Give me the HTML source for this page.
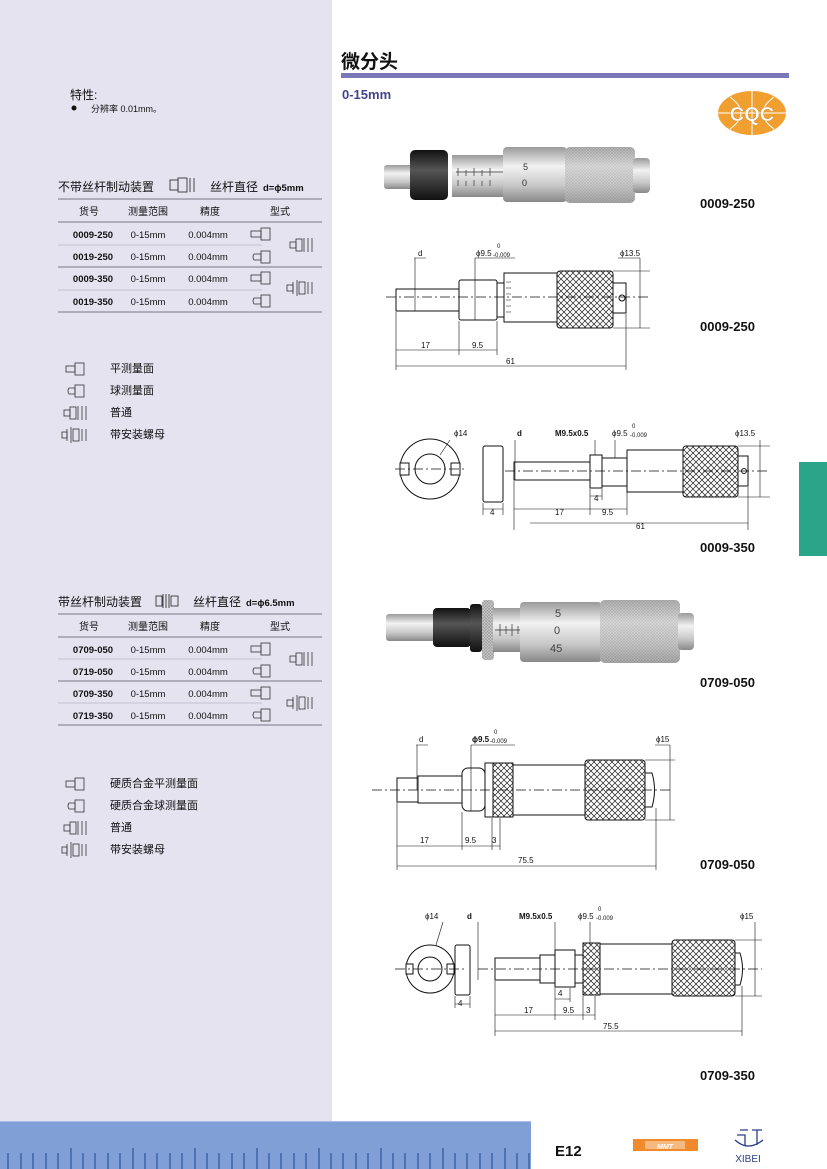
<!DOCTYPE html>
<html><head><meta charset="utf-8"><style>
html,body{margin:0;padding:0;background:#fff}
svg{display:block}
text{font-family:"Liberation Sans","Noto Sans CJK SC",sans-serif}
</style></head><body>
<svg width="827" height="1169" viewBox="0 0 827 1169" xmlns="http://www.w3.org/2000/svg">
<defs>
<pattern id="kn" width="6" height="6" patternUnits="userSpaceOnUse"><rect width="6" height="6" fill="#fff"/><path d="M0 0L6 6M6 0L0 6" stroke="#222" stroke-width="0.7"/></pattern>
<pattern id="pk" width="3" height="3" patternUnits="userSpaceOnUse"><rect width="3" height="3" fill="#c9c9c9"/><path d="M0 0L3 3M3 0L0 3" stroke="#9a9a9a" stroke-width="0.6"/></pattern>
<linearGradient id="mg" x1="0" y1="0" x2="0" y2="1"><stop offset="0" stop-color="#9a9a9a"/><stop offset="0.35" stop-color="#f2f2f2"/><stop offset="0.7" stop-color="#c8c8c8"/><stop offset="1" stop-color="#888"/></linearGradient>
<linearGradient id="bg" x1="0" y1="0" x2="0" y2="1"><stop offset="0" stop-color="#111"/><stop offset="0.4" stop-color="#555"/><stop offset="1" stop-color="#111"/></linearGradient>
</defs>
<rect x="0" y="0" width="332" height="1121" fill="#e5e3f0"/>
<text x="341" y="68" font-size="19" font-weight="bold" fill="#111">微分头</text>
<rect x="341" y="73" width="448" height="5" fill="#7b78b8"/>
<text x="342" y="99" font-size="13" font-weight="bold" fill="#44448c">0-15mm</text>
<ellipse cx="752" cy="113" rx="34" ry="22" fill="#f0a030"/>
<path d="M718 113H786M752 91V135M730 97Q752 113 730 129M774 97Q752 113 774 129" stroke="#fff" stroke-width="1" fill="none"/>
<text x="752" y="121" font-size="20" font-weight="bold" fill="#fff" text-anchor="middle" stroke="#c07020" stroke-width="0.3">CQC</text>
<text x="70" y="99" font-size="12" fill="#111">特性:</text>
<circle cx="74" cy="108" r="2.5" fill="#111"/>
<text x="91" y="112" font-size="9" fill="#111">分辨率 0.01mm。</text>
<g font-size="11" fill="#111">
<text x="58" y="191" font-size="12">不带丝杆制动装置</text>
<g stroke="#333" fill="none" stroke-width="0.9"><rect x="170" y="180" width="8" height="10"/><rect x="178" y="178" width="9" height="14"/><path d="M190 178V192M194 178V192"/></g>
<text x="210" y="191" font-size="12">丝杆直径</text>
<text x="263" y="191" font-size="9.5" font-weight="bold">d=ϕ5mm</text>
</g>
<g stroke="#8a8a9a" stroke-width="1.3"><path d="M58 199H322M58 222H322M58 267H322M58 312H322"/></g>
<g stroke="#b8b8c8" stroke-width="0.8"><path d="M58 245H262M58 290H262"/></g>
<g font-size="10" fill="#111" text-anchor="middle">
<text x="89" y="215">货号</text><text x="148" y="215">测量范围</text><text x="210" y="215">精度</text><text x="280" y="215">型式</text>
<g font-weight="bold" font-size="9.5"><text x="93" y="238">0009-250</text><text x="93" y="260">0019-250</text><text x="93" y="282">0009-350</text><text x="93" y="305">0019-350</text></g>
<g font-size="9.5"><text x="148" y="238">0-15mm</text><text x="148" y="260">0-15mm</text><text x="148" y="282">0-15mm</text><text x="148" y="305">0-15mm</text>
<text x="208" y="238">0.004mm</text><text x="208" y="260">0.004mm</text><text x="208" y="282">0.004mm</text><text x="208" y="305">0.004mm</text></g>
</g>
<g stroke="#333" fill="none" stroke-width="0.8">
<rect x="251" y="231" width="10" height="6"/><rect x="261" y="228" width="9" height="12"/>
<path d="M254 254h7v6h-7q-2-3 0-6z"/><rect x="261" y="251" width="9" height="12"/>
<rect x="251" y="275" width="10" height="6"/><rect x="261" y="272" width="9" height="12"/>
<path d="M254 298h7v6h-7q-2-3 0-6z"/><rect x="261" y="295" width="9" height="12"/>
<rect x="290" y="242" width="6" height="6"/><rect x="296" y="239" width="6" height="12"/><path d="M304 238V252M308 238V252M312 238V252"/>
<rect x="287" y="285" width="6" height="6"/><path d="M293 282V294M297 280V296"/><rect x="299" y="282" width="6" height="12"/><path d="M308 282V294M312 282V294"/>
</g>
<g font-size="11" fill="#111">
<text x="110" y="372">平测量面</text><text x="110" y="394">球测量面</text><text x="110" y="416">普通</text><text x="110" y="438">带安装螺母</text>
</g>
<g stroke="#333" fill="none" stroke-width="0.8">
<rect x="66" y="366" width="9" height="6"/><rect x="75" y="363" width="9" height="12"/>
<path d="M69 388h6v6h-6q-2-3 0-6z"/><rect x="75" y="385" width="9" height="12"/>
<rect x="64" y="410" width="6" height="6"/><rect x="70" y="407" width="6" height="12"/><path d="M78 406V420M82 406V420M86 406V420"/>
<rect x="62" y="432" width="5" height="6"/><path d="M67 429V441M71 427V443"/><rect x="73" y="429" width="6" height="12"/><path d="M82 429V441M86 429V441"/>
</g>
<g font-size="11" fill="#111">
<text x="58" y="606" font-size="12">带丝杆制动装置</text>
<g stroke="#333" fill="none" stroke-width="0.9"><rect x="156" y="596" width="6" height="10"/><path d="M163 594V608M166 594V608M169 594V608"/><rect x="171" y="596" width="7" height="10"/></g>
<text x="193" y="606" font-size="12">丝杆直径</text>
<text x="246" y="606" font-size="9.5" font-weight="bold">d=ϕ6.5mm</text>
</g>
<g stroke="#8a8a9a" stroke-width="1.3"><path d="M58 614H322M58 637H322M58 681H322M58 725H322"/></g>
<g stroke="#b8b8c8" stroke-width="0.8"><path d="M58 659H262M58 703H262"/></g>
<g font-size="10" fill="#111" text-anchor="middle">
<text x="89" y="630">货号</text><text x="148" y="630">测量范围</text><text x="210" y="630">精度</text><text x="280" y="630">型式</text>
<g font-weight="bold" font-size="9.5"><text x="93" y="653">0709-050</text><text x="93" y="675">0719-050</text><text x="93" y="697">0709-350</text><text x="93" y="719">0719-350</text></g>
<g font-size="9.5"><text x="148" y="653">0-15mm</text><text x="148" y="675">0-15mm</text><text x="148" y="697">0-15mm</text><text x="148" y="719">0-15mm</text>
<text x="208" y="653">0.004mm</text><text x="208" y="675">0.004mm</text><text x="208" y="697">0.004mm</text><text x="208" y="719">0.004mm</text></g>
</g>
<g stroke="#333" fill="none" stroke-width="0.8">
<rect x="251" y="646" width="10" height="6"/><rect x="261" y="643" width="9" height="12"/>
<path d="M254 668h7v6h-7q-2-3 0-6z"/><rect x="261" y="665" width="9" height="12"/>
<rect x="251" y="690" width="10" height="6"/><rect x="261" y="687" width="9" height="12"/>
<path d="M254 712h7v6h-7q-2-3 0-6z"/><rect x="261" y="709" width="9" height="12"/>
<rect x="290" y="656" width="6" height="6"/><rect x="296" y="653" width="6" height="12"/><path d="M304 652V666M308 652V666M312 652V666"/>
<rect x="287" y="700" width="6" height="6"/><path d="M293 697V709M297 695V711"/><rect x="299" y="697" width="6" height="12"/><path d="M308 697V709M312 697V709"/>
</g>
<g font-size="11" fill="#111">
<text x="110" y="787">硬质合金平测量面</text><text x="110" y="809">硬质合金球测量面</text><text x="110" y="831">普通</text><text x="110" y="853">带安装螺母</text>
</g>
<g stroke="#333" fill="none" stroke-width="0.8">
<rect x="66" y="781" width="9" height="6"/><rect x="75" y="778" width="9" height="12"/>
<path d="M69 803h6v6h-6q-2-3 0-6z"/><rect x="75" y="800" width="9" height="12"/>
<rect x="64" y="825" width="6" height="6"/><rect x="70" y="822" width="6" height="12"/><path d="M78 821V835M82 821V835M86 821V835"/>
<rect x="62" y="847" width="5" height="6"/><path d="M67 844V856M71 842V858"/><rect x="73" y="844" width="6" height="12"/><path d="M82 844V856M86 844V856"/>
</g>

<rect x="384" y="165" width="30" height="24" rx="3" fill="url(#mg)"/>
<rect x="410" y="150" width="38" height="50" rx="5" fill="url(#bg)"/>
<rect x="452" y="155" width="53" height="42" fill="url(#mg)"/>
<g stroke="#333" stroke-width="0.7"><path d="M456 172H505M458 176V168M466 176V170M474 176V168M482 176V170M490 176V168M458 186V180M466 186V181M474 186V180M482 186V181M490 186V180"/></g>
<rect x="503" y="147" width="64" height="55" rx="4" fill="url(#mg)"/>
<text x="523" y="170" font-size="9" fill="#333">5</text><text x="522" y="186" font-size="9" fill="#333">0</text>
<rect x="565" y="147" width="70" height="56" rx="5" fill="url(#pk)"/>
<rect x="565" y="147" width="70" height="56" rx="5" fill="url(#mg)" opacity="0.5"/>
<rect x="633" y="158" width="17" height="35" rx="4" fill="url(#mg)"/>
<text x="700" y="208" font-size="13" font-weight="bold" fill="#111">0009-250</text>

<g stroke="#111" stroke-width="1" fill="#fff">
<rect x="396" y="289" width="63" height="22"/>
<rect x="459" y="280" width="38" height="40" rx="2"/>
<rect x="497" y="283" width="7" height="34"/>
<path d="M504 273H557V322H504Z"/>
<rect x="557" y="271" width="56" height="57" rx="3" fill="url(#kn)"/>
<rect x="613" y="283" width="13" height="30"/>
</g>
<circle cx="622" cy="298" r="3" fill="#fff" stroke="#111"/>
<g stroke="#111" stroke-width="0.6"><path d="M506 282h5M506 288h5M506 294h5M506 300h5M506 306h5M506 312h5"/></g>
<path d="M386 297H650" stroke="#111" stroke-width="0.7" stroke-dasharray="10 3 2 3"/>
<g stroke="#111" stroke-width="0.6" fill="none">
<path d="M415 258V311M414 258H426M475 258V320M475 258H515M640 258V328M618 258H640M613 271H650M613 328H650"/>
<path d="M396 312V370M459 321V355M497 321V355M626 314V370M396 350H497M396 366H626"/>
</g>
<text x="418" y="256" font-size="8" fill="#111">d</text>
<text x="476" y="256" font-size="8" fill="#111">ϕ9.5</text><text x="493" y="257" font-size="6" fill="#111">-0.009</text><text x="497" y="248" font-size="6" fill="#111">0</text>
<text x="620" y="256" font-size="8" fill="#111">ϕ13.5</text>
<text x="421" y="348" font-size="8" fill="#111">17</text><text x="472" y="348" font-size="8" fill="#111">9.5</text><text x="506" y="364" font-size="8" fill="#111">61</text>
<text x="700" y="331" font-size="13" font-weight="bold" fill="#111">0009-250</text>

<g stroke="#111" stroke-width="1" fill="#fff">
<circle cx="430" cy="469" r="30"/><circle cx="430" cy="469" r="15"/>
<rect x="400" y="463" width="9" height="12"/><rect x="451" y="463" width="9" height="12"/>
<rect x="483" y="446" width="20" height="56" rx="2"/>
<rect x="514" y="462" width="76" height="18"/>
<rect x="590" y="455" width="12" height="33"/>
<rect x="602" y="458" width="25" height="28"/>
<rect x="627" y="450" width="56" height="42"/>
<rect x="683" y="446" width="55" height="51" rx="3" fill="url(#kn)"/>
<rect x="738" y="456" width="10" height="30"/>
</g>
<circle cx="744" cy="471" r="2.5" fill="#fff" stroke="#111"/>
<path d="M395 469H465M505 471H770" stroke="#111" stroke-width="0.7" stroke-dasharray="10 3 2 3"/>
<g stroke="#111" stroke-width="0.6" fill="none">
<path d="M450 440L440 455M515 440V480M595 440V455M615 440V458M760 440V497M738 446H770M738 497H770"/>
<path d="M483 503V515M503 503V515M483 509H503M514 481V530M590 489V515M602 489V500M627 487V515M748 487V530M514 509H627M590 496H602M530 523H748"/>
</g>
<text x="454" y="436" font-size="8" fill="#111">ϕ14</text><text x="517" y="436" font-size="8" font-weight="bold" fill="#111">d</text>
<text x="555" y="436" font-size="8" font-weight="bold" fill="#111">M9.5x0.5</text>
<text x="612" y="436" font-size="8" fill="#111">ϕ9.5</text><text x="630" y="437" font-size="6" fill="#111">-0.009</text><text x="632" y="428" font-size="6" fill="#111">0</text>
<text x="735" y="436" font-size="8" fill="#111">ϕ13.5</text>
<text x="490" y="515" font-size="8" fill="#111">4</text><text x="594" y="501" font-size="8" fill="#111">4</text>
<text x="555" y="515" font-size="8" fill="#111">17</text><text x="602" y="515" font-size="8" fill="#111">9.5</text><text x="636" y="529" font-size="8" fill="#111">61</text>
<text x="700" y="552" font-size="13" font-weight="bold" fill="#111">0009-350</text>

<rect x="799" y="462" width="28" height="94" fill="#2aa58a"/>

<rect x="386" y="614" width="50" height="27" rx="3" fill="url(#mg)"/>
<rect x="433" y="608" width="38" height="39" rx="4" fill="url(#bg)"/>
<rect x="470" y="604" width="12" height="48" rx="3" fill="url(#bg)"/>
<rect x="482" y="600" width="12" height="60" rx="3" fill="url(#pk)"/>
<rect x="493" y="608" width="30" height="44" fill="url(#mg)"/>
<g stroke="#333" stroke-width="0.7"><path d="M495 630H540M500 624V636M506 626V634M512 624V636M518 626V634"/></g>
<rect x="520" y="602" width="82" height="60" rx="4" fill="url(#mg)"/>
<text x="555" y="617" font-size="11" fill="#444">5</text><text x="554" y="634" font-size="11" fill="#444">0</text><text x="550" y="652" font-size="11" fill="#444">45</text>
<rect x="600" y="600" width="80" height="63" rx="5" fill="url(#pk)"/>
<rect x="600" y="600" width="80" height="63" rx="5" fill="url(#mg)" opacity="0.45"/>
<rect x="678" y="613" width="16" height="37" rx="4" fill="url(#mg)"/>
<text x="700" y="687" font-size="13" font-weight="bold" fill="#111">0709-050</text>

<g stroke="#111" stroke-width="1" fill="#fff">
<rect x="397" y="778" width="21" height="24"/>
<rect x="418" y="776" width="44" height="27"/>
<rect x="462" y="768" width="23" height="43" rx="6"/>
<rect x="485" y="763" width="8" height="54"/>
<rect x="493" y="763" width="20" height="54" fill="url(#kn)"/>
<rect x="513" y="765" width="72" height="50"/>
<rect x="585" y="760" width="60" height="60" rx="3" fill="url(#kn)"/>
<path d="M645 773H652Q657 790 652 807H645Z"/>
</g>
<path d="M372 790H670" stroke="#111" stroke-width="0.7" stroke-dasharray="10 3 2 3"/>
<g stroke="#111" stroke-width="0.6" fill="none">
<path d="M417 745V790M416 745H428M471 745V811M471 745H515M670 745V820M655 745H670M645 760H675M645 820H675"/>
<path d="M397 803V870M462 812V850M492 818V850M500 818V850M656 808V870M397 846H500M397 866H656"/>
</g>
<text x="419" y="742" font-size="8" fill="#111">d</text>
<text x="472" y="742" font-size="8" font-weight="bold" fill="#111">ϕ9.5</text><text x="490" y="743" font-size="6" fill="#111">-0.009</text><text x="494" y="734" font-size="6" fill="#111">0</text>
<text x="656" y="742" font-size="8" fill="#111">ϕ15</text>
<text x="420" y="843" font-size="8" fill="#111">17</text><text x="465" y="843" font-size="8" fill="#111">9.5</text><text x="492" y="843" font-size="8" fill="#111">3</text><text x="518" y="863" font-size="8" fill="#111">75.5</text>
<text x="700" y="869" font-size="13" font-weight="bold" fill="#111">0709-050</text>

<g stroke="#111" stroke-width="1" fill="#fff">
<circle cx="430" cy="969" r="24"/><circle cx="430" cy="969" r="12"/>
<rect x="406" y="964" width="7" height="10"/><rect x="447" y="964" width="7" height="10"/>
<rect x="455" y="945" width="15" height="50" rx="2"/>
<rect x="495" y="958" width="45" height="22"/>
<rect x="540" y="955" width="15" height="28"/>
<rect x="555" y="950" width="20" height="37"/>
<rect x="575" y="955" width="8" height="28"/>
<rect x="583" y="943" width="17" height="52" fill="url(#kn)"/>
<rect x="600" y="944" width="72" height="50"/>
<rect x="672" y="940" width="63" height="56" rx="3" fill="url(#kn)"/>
<path d="M735 953H740Q745 969 740 985H735Z"/>
</g>
<path d="M395 969H465M478 969H762" stroke="#111" stroke-width="0.7" stroke-dasharray="10 3 2 3"/>
<g stroke="#111" stroke-width="0.6" fill="none">
<path d="M443 922L436 945M478 922V980M555 922V950M590 922V945M755 922V996M735 940H762M735 996H762"/>
<path d="M455 996V1008M470 996V1008M455 1004H470M495 981V1036M555 988V1020M570 988V1002M583 996V1020M595 996V1020M742 986V1036M555 999H570M495 1015H595M495 1031H742"/>
</g>
<text x="425" y="919" font-size="8" fill="#111">ϕ14</text><text x="467" y="919" font-size="8" font-weight="bold" fill="#111">d</text>
<text x="519" y="919" font-size="8" font-weight="bold" fill="#111">M9.5x0.5</text>
<text x="578" y="919" font-size="8" fill="#111">ϕ9.5</text><text x="596" y="920" font-size="6" fill="#111">-0.009</text><text x="598" y="911" font-size="6" fill="#111">0</text>
<text x="740" y="919" font-size="8" fill="#111">ϕ15</text>
<text x="458" y="1006" font-size="8" fill="#111">4</text><text x="558" y="996" font-size="8" fill="#111">4</text>
<text x="524" y="1013" font-size="8" fill="#111">17</text><text x="563" y="1013" font-size="8" fill="#111">9.5</text><text x="586" y="1013" font-size="8" fill="#111">3</text><text x="603" y="1029" font-size="8" fill="#111">75.5</text>
<text x="700" y="1080" font-size="13" font-weight="bold" fill="#111">0709-350</text>

<rect x="0" y="1121" width="531" height="48" fill="#7f9fd6"/>
<rect x="0" y="1121" width="531" height="1" fill="#a8bde6"/>
<g stroke="#2f5599" stroke-width="1.2">
<path d="M8 1169V1153M21 1169V1153M33 1169V1153M46 1169V1153M58 1169V1153M71 1169V1148M83 1169V1153M95 1169V1153M108 1169V1153M120 1169V1153M133 1169V1148M145 1169V1153M157 1169V1153M170 1169V1153M182 1169V1153M195 1169V1148M207 1169V1153M219 1169V1153M232 1169V1153M244 1169V1153M257 1169V1148M269 1169V1153M281 1169V1153M294 1169V1153M306 1169V1153M319 1169V1148M331 1169V1153M343 1169V1153M356 1169V1153M368 1169V1153M381 1169V1148M393 1169V1153M405 1169V1153M418 1169V1153M430 1169V1153M443 1169V1148M455 1169V1153M467 1169V1153M480 1169V1153M492 1169V1153M505 1169V1148M517 1169V1153M529 1169V1153"/>
</g>
<text x="555" y="1156" font-size="15" font-weight="bold" fill="#111">E12</text>
<rect x="633" y="1139" width="65" height="12" fill="#f08a2c"/>
<rect x="645" y="1141" width="40" height="8" fill="#fff" opacity="0.4"/>
<text x="665" y="1149" font-size="7" font-weight="bold" font-style="italic" fill="#fff" text-anchor="middle">MMT</text>
<g stroke="#2c3f86" stroke-width="1.3" fill="none"><path d="M737 1135H745V1145M740 1130H748M752 1130H762M757 1130V1145M735 1140Q748 1152 763 1140"/></g>
<text x="748" y="1162" font-size="10" fill="#2c3f86" text-anchor="middle">XIBEI</text>
</svg>
</body></html>
